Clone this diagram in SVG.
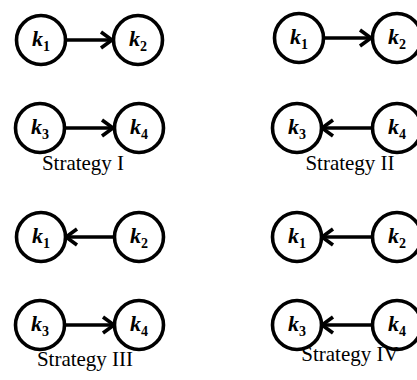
<svg xmlns="http://www.w3.org/2000/svg" width="417" height="380" viewBox="0 0 417 380">
<style>
.n{fill:#fff;stroke:#000;stroke-width:3.6}
.k{font-family:"Liberation Serif",serif;font-style:italic;font-weight:bold;font-size:22px;text-anchor:middle}
.s{font-style:normal;font-size:14px;font-weight:bold}
.c{stroke:#000;stroke-width:3.4;fill:none}
.h{stroke:#000;stroke-width:3.6;fill:none;stroke-linejoin:miter}
.t{font-family:"Liberation Serif",serif;font-size:21px;text-anchor:middle}
</style>
<g id="connectors">
<line class="c" x1="65" y1="40" x2="112" y2="40"/><polyline class="h" points="101,32 112,40 101,48"/>
<line class="c" x1="64" y1="128" x2="113" y2="128"/><polyline class="h" points="102,120 113,128 102,136"/>
<line class="c" x1="323" y1="38" x2="371" y2="38"/><polyline class="h" points="360,30 371,38 360,46"/>
<line class="c" x1="322" y1="128" x2="373" y2="128"/><polyline class="h" points="333,120 322,128 333,136"/>
<line class="c" x1="66" y1="237" x2="115" y2="237"/><polyline class="h" points="77,229 66,237 77,245"/>
<line class="c" x1="64" y1="325" x2="114" y2="325"/><polyline class="h" points="103,317 114,325 103,333"/>
<line class="c" x1="322" y1="237" x2="373" y2="237"/><polyline class="h" points="333,229 322,237 333,245"/>
<line class="c" x1="322" y1="325" x2="373" y2="325"/><polyline class="h" points="333,317 322,325 333,333"/>
</g>
<g id="s1-k1"><circle class="n" cx="41" cy="40" r="24.5"/><text class="k" x="41" y="46">k<tspan class="s" dy="5">1</tspan></text></g>
<g id="s1-k2"><circle class="n" cx="138" cy="40" r="24.5"/><text class="k" x="138" y="46">k<tspan class="s" dy="5">2</tspan></text></g>
<g id="s1-k3"><circle class="n" cx="40" cy="128" r="24.5"/><text class="k" x="40" y="134">k<tspan class="s" dy="5">3</tspan></text></g>
<g id="s1-k4"><circle class="n" cx="139" cy="128" r="24.5"/><text class="k" x="139" y="134">k<tspan class="s" dy="5">4</tspan></text></g>
<text id="label1" class="t" x="83" y="170">Strategy I</text>
<g id="s2-k1"><circle class="n" cx="299" cy="38" r="24.5"/><text class="k" x="299" y="44">k<tspan class="s" dy="5">1</tspan></text></g>
<g id="s2-k2"><circle class="n" cx="397" cy="38" r="24.5"/><text class="k" x="397" y="44">k<tspan class="s" dy="5">2</tspan></text></g>
<g id="s2-k3"><circle class="n" cx="297" cy="128" r="24.5"/><text class="k" x="297" y="134">k<tspan class="s" dy="5">3</tspan></text></g>
<g id="s2-k4"><circle class="n" cx="397" cy="128" r="24.5"/><text class="k" x="397" y="134">k<tspan class="s" dy="5">4</tspan></text></g>
<text id="label2" class="t" x="350" y="170">Strategy II</text>
<g id="s3-k1"><circle class="n" cx="41" cy="237" r="24.5"/><text class="k" x="41" y="243">k<tspan class="s" dy="5">1</tspan></text></g>
<g id="s3-k2"><circle class="n" cx="139" cy="237" r="24.5"/><text class="k" x="139" y="243">k<tspan class="s" dy="5">2</tspan></text></g>
<g id="s3-k3"><circle class="n" cx="40" cy="325" r="24.5"/><text class="k" x="40" y="331">k<tspan class="s" dy="5">3</tspan></text></g>
<g id="s3-k4"><circle class="n" cx="139" cy="325" r="24.5"/><text class="k" x="139" y="331">k<tspan class="s" dy="5">4</tspan></text></g>
<text id="label3" class="t" x="85" y="366">Strategy III</text>
<g id="s4-k1"><circle class="n" cx="297" cy="237" r="24.5"/><text class="k" x="297" y="243">k<tspan class="s" dy="5">1</tspan></text></g>
<g id="s4-k2"><circle class="n" cx="397" cy="237" r="24.5"/><text class="k" x="397" y="243">k<tspan class="s" dy="5">2</tspan></text></g>
<g id="s4-k3"><circle class="n" cx="297" cy="325" r="24.5"/><text class="k" x="297" y="331">k<tspan class="s" dy="5">3</tspan></text></g>
<g id="s4-k4"><circle class="n" cx="397" cy="325" r="24.5"/><text class="k" x="397" y="331">k<tspan class="s" dy="5">4</tspan></text></g>
<text id="label4" class="t" x="350" y="361">Strategy IV</text>
</svg>
